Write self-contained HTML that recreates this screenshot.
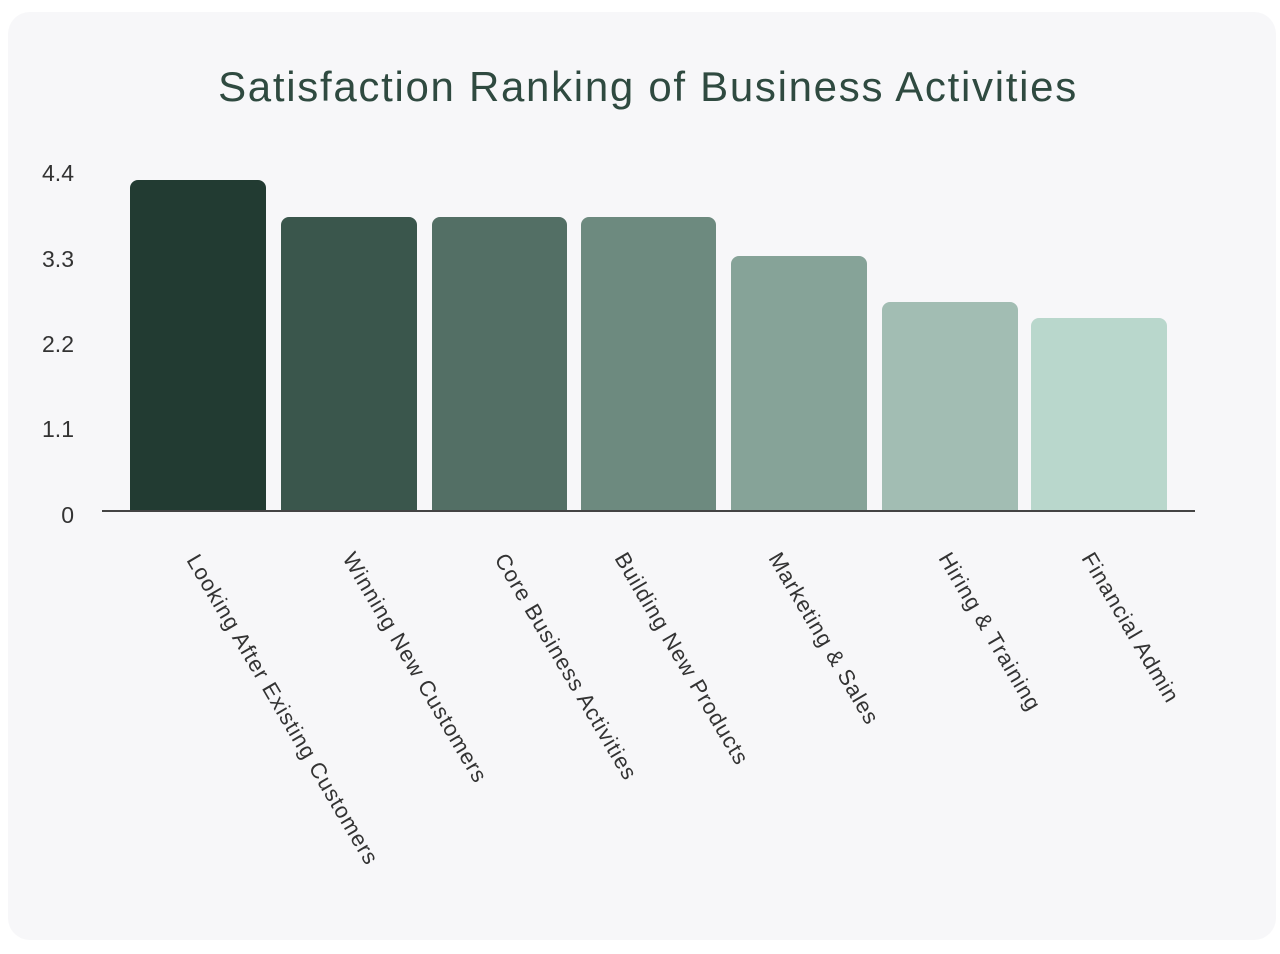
<!DOCTYPE html>
<html><head><meta charset="utf-8"><style>
html,body{margin:0;padding:0;background:#fff;}
.card{position:absolute;left:8px;top:12px;width:1268px;height:928px;background:#f7f7f9;border-radius:22px;}
svg{position:absolute;left:0;top:0;}
</style></head><body>
<div class="card"></div>
<svg width="1280" height="954" viewBox="0 0 1280 954" font-family="Liberation Sans, sans-serif">
<text x="648" y="101" text-anchor="middle" font-size="42" letter-spacing="1.7" fill="#2f4a40">Satisfaction Ranking of Business Activities</text>
<g font-size="23" fill="#333" text-anchor="end">
<text x="74" y="181">4.4</text>
<text x="74" y="267">3.3</text>
<text x="74" y="352">2.2</text>
<text x="74" y="437">1.1</text>
<text x="74" y="523">0</text>
</g>
<path d="M130 511V188a8 8 0 0 1 8-8h120a8 8 0 0 1 8 8V511Z" fill="#223b32"/>
<path d="M281 511V225a8 8 0 0 1 8-8h120a8 8 0 0 1 8 8V511Z" fill="#3a564c"/>
<path d="M432 511V225a8 8 0 0 1 8-8h119a8 8 0 0 1 8 8V511Z" fill="#536f65"/>
<path d="M581 511V225a8 8 0 0 1 8-8h119a8 8 0 0 1 8 8V511Z" fill="#6d8a7f"/>
<path d="M731 511V264a8 8 0 0 1 8-8h120a8 8 0 0 1 8 8V511Z" fill="#86a398"/>
<path d="M882 511V310a8 8 0 0 1 8-8h120a8 8 0 0 1 8 8V511Z" fill="#a2bdb3"/>
<path d="M1031 511V326a8 8 0 0 1 8-8h120a8 8 0 0 1 8 8V511Z" fill="#b9d7cc"/>
<line x1="102" y1="511" x2="1195" y2="511" stroke="#444" stroke-width="2"/>
<g font-size="22" fill="#333" letter-spacing="1">
<text transform="translate(186,560) rotate(59.5)">Looking After Existing Customers</text>
<text transform="translate(342,558) rotate(59.5)">Winning New Customers</text>
<text transform="translate(494,559) rotate(59.5)">Core Business Activities</text>
<text transform="translate(614,558) rotate(59.5)">Building New Products</text>
<text transform="translate(768,558) rotate(59.5)">Marketing &amp; Sales</text>
<text transform="translate(938,558) rotate(59.5)">Hiring &amp; Training</text>
<text transform="translate(1081,558) rotate(59.5)">Financial Admin</text>
</g>
</svg>
</body></html>
